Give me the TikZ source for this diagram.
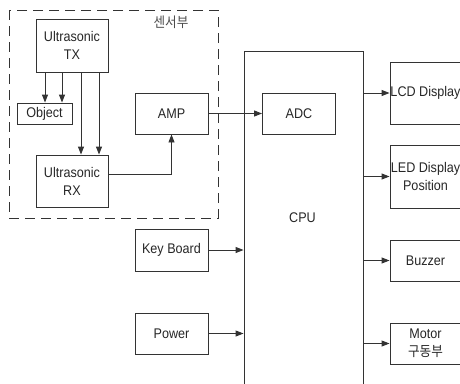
\documentclass[tikz,border=0pt]{standalone}
\usepackage{fontspec}
\setmainfont{Liberation Sans}[FakeStretch=0.9]
\newfontfamily\krfont{Noto Sans CJK KR}[FakeStretch=0.9]
\usetikzlibrary{arrows.meta,calc}
\begin{document}
\begin{tikzpicture}[x=1pt,y=-1pt,
  every node/.style={font=\fontsize{14}{18}\selectfont, text=black!85},
  blk/.style={draw=black!80, line width=0.9pt, rectangle, inner sep=0pt, align=center},
  lnk/.style={draw=black!80, line width=0.9pt},
  arr/.style={lnk, -{Triangle[length=8pt,width=6pt]}},
  grp/.style={draw=black!80, line width=0.9pt, dash pattern=on 10pt off 6pt}]
\useasboundingbox (0,0) rectangle (460,383);
\clip (0,0) rectangle (460,383);
% sensor group
\draw[grp] (9,10) rectangle (218,218);
\node[text=black!70] (sens) at (171,22) {\krfont 센서부};
% blocks
\node[blk, minimum width=72pt, minimum height=53pt] (tx) at (72,45.5) {Ultrasonic\\TX};
\node[blk, minimum width=55pt, minimum height=21pt] (obj) at (44.5,113.5) {Object};
\node[blk, minimum width=72pt, minimum height=52pt] (rx) at (72,181) {Ultrasonic\\RX};
\node[blk, minimum width=73pt, minimum height=41pt] (amp) at (171.5,113.5) {AMP};
\node[blk, minimum width=73pt, minimum height=42pt] (kb) at (171.5,250) {Key Board};
\node[blk, minimum width=73pt, minimum height=41pt] (pwr) at (171.5,333.5) {Power};
\node[blk, minimum width=119pt, minimum height=344pt] (cpu) at (303.5,223) {};
\node (cpulbl) at (302.5,218) {CPU};
\node[blk, minimum width=73pt, minimum height=41pt] (adc) at (299,113.5) {ADC};
% output blocks
\node[blk, minimum width=71pt, minimum height=62pt] (lcd) at (425.5,93) {LCD Display};
\node[blk, minimum width=71pt, minimum height=63pt] (led) at (425.5,176.5) {LED Display\\Position};
\node[blk, minimum width=71pt, minimum height=41pt] (buz) at (425.5,260.5) {Buzzer};
\node[blk, minimum width=71pt, minimum height=41pt] (mot) at (425.5,343.5) {Motor\\{\krfont 구동부}};
% helper x positions
\coordinate (xa) at (45,0);
\coordinate (xb) at (62,0);
\coordinate (xc) at (81,0);
\coordinate (xd) at (99,0);
% connectors
\draw[arr] (tx.south -| xa) -- (obj.north -| xa);
\draw[arr] (tx.south -| xb) -- (obj.north -| xb);
\draw[arr] (tx.south -| xc) -- (rx.north -| xc);
\draw[arr] (tx.south -| xd) -- (rx.north -| xd);
\draw[arr] ([yshift=7pt]rx.east) -| (amp.south);
\draw[arr] (amp.east) -- (adc.west);
\draw[arr] (kb.east) -- (kb.east -| cpu.west);
\draw[arr] (pwr.east) -- (pwr.east -| cpu.west);
\draw[arr] (lcd.west -| cpu.east) -- (lcd.west);
\draw[arr] (led.west -| cpu.east) -- (led.west);
\draw[arr] (buz.west -| cpu.east) -- (buz.west);
\draw[arr] (mot.west -| cpu.east) -- (mot.west);
\end{tikzpicture}
\end{document}
